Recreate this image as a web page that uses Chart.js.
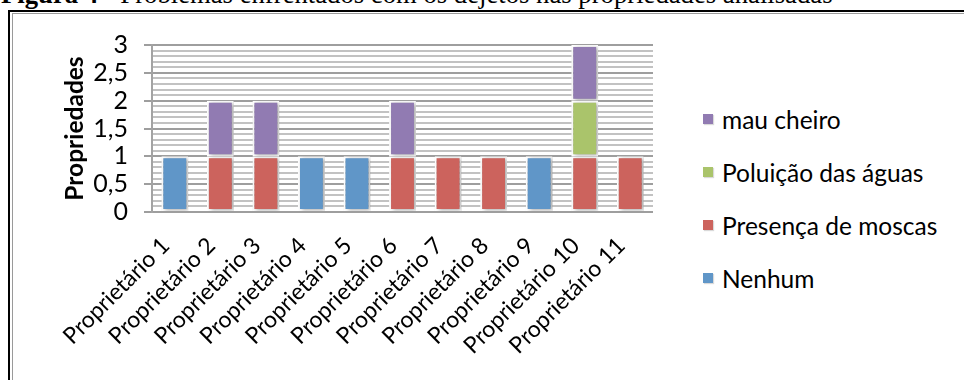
<!DOCTYPE html>
<html lang="pt">
<head>
<meta charset="utf-8">
<script src="https://cdn.jsdelivr.net/npm/chart.js@4/dist/chart.umd.min.js"></script>
<style>
  html, body { margin: 0; padding: 0; background: #fff; }
  #page { position: relative; width: 964px; height: 380px; overflow: hidden; background: #fff; }
  #caption {
    position: absolute; left: 1px; top: -21px; white-space: nowrap;
    font-family: "Liberation Serif", "Times New Roman", serif; font-size: 26.7px; color: #000;
  }
  #caption b { font-weight: bold; }
  .frame-outer-top { position: absolute; left: 8px; top: 10px; right: 0; height: 2px; background: #000; }
  .frame-inner-top { position: absolute; left: 12px; top: 13px; right: 0; height: 1px; background: #9a9a9a; }
  .frame-outer-left { position: absolute; left: 8px; top: 10px; bottom: 0; width: 2px; background: #000; }
  .frame-inner-left { position: absolute; left: 12px; top: 13px; bottom: 0; width: 1px; background: #9a9a9a; }
  #chartBox { position: absolute; left: 0; top: 0; width: 680px; height: 380px; }
  #legend { position: absolute; left: 703px; top: 0; font-family: Lato, "Open Sans", sans-serif; font-size: 24.5px; color: #000; }
  .item { position: absolute; left: 0; white-space: nowrap; display: flex; align-items: center; height: 30px; }
  .swatch { width: 10px; height: 10px; margin-right: 9px; box-shadow: 1px 1px 1px rgba(0,0,0,0.15); }
</style>
</head>
<body>
<div id="page">
  <div id="caption"><b>Figura 4</b> - Problemas enfrentados com os dejetos nas propriedades analisadas</div>
  <div class="frame-outer-top"></div>
  <div class="frame-inner-top"></div>
  <div class="frame-outer-left"></div>
  <div class="frame-inner-left"></div>
  <div id="chartBox"><canvas id="chart" width="680" height="380"></canvas></div>
  <div id="legend"></div>
</div>
<script>
// Categories: the eleven farm owners surveyed
const owners = [
  'Proprietário 1', 'Proprietário 2', 'Proprietário 3', 'Proprietário 4',
  'Proprietário 5', 'Proprietário 6', 'Proprietário 7', 'Proprietário 8',
  'Proprietário 9', 'Proprietário 10', 'Proprietário 11'
];

// Number of properties reporting each problem
const nenhum          = [1, 0, 0, 1, 1, 0, 0, 0, 1, 0, 0];
const presencaMoscas  = [0, 1, 1, 0, 0, 1, 1, 1, 0, 1, 1];
const poluicaoAguas   = [0, 0, 0, 0, 0, 0, 0, 0, 0, 1, 0];
const mauCheiro       = [0, 1, 1, 0, 0, 1, 0, 0, 0, 1, 0];

const seriesNames  = ['Nenhum', 'Presença de moscas', 'Poluição das águas', 'mau cheiro'];
const seriesColors = ['#6096c8', '#cc635d', '#aac46b', '#917bb2'];
const seriesValues = [nenhum, presencaMoscas, poluicaoAguas, mauCheiro];

// Y axis: 0 to 3, labelled every 0.5, minor lines every 0.1
const yMin = 0, yMax = 3, yMinorStep = 0.1, yLabelStep = 0.5;

const isLabelled = v => Math.abs(v / yLabelStep - Math.round(v / yLabelStep)) < 1e-6;

const FONT = 'Lato, "Open Sans", sans-serif';

// soft drop shadow under the bars
const barShadow = {
  id: 'barShadow',
  beforeDatasetsDraw(chart) {
    const ctx = chart.ctx;
    ctx.save();
    ctx.shadowColor = 'rgba(0,0,0,0.35)';
    ctx.shadowBlur = 4;
    ctx.shadowOffsetX = 2;
    ctx.shadowOffsetY = 1;
  },
  afterDatasetsDraw(chart) { chart.ctx.restore(); }
};

new Chart(document.getElementById('chart'), {
  type: 'bar',
  data: {
    labels: owners,
    datasets: seriesValues.map((vals, i) => ({
      label: seriesNames[i],
      data: vals,
      backgroundColor: seriesColors[i],
      borderColor: '#ffffff',
      borderWidth: 2,
      borderSkipped: false,
      categoryPercentage: 1,
      barPercentage: 0.59
    }))
  },
  options: {
    responsive: false,
    animation: false,
    devicePixelRatio: 1,
    layout: { padding: { left: 0, top: 45, right: 27, bottom: 0 } },
    plugins: { legend: { display: false }, tooltip: { enabled: false } },
    scales: {
      x: {
        stacked: true,
        grid: { display: false },
        border: { display: false },
        ticks: {
          color: '#000',
          font: { family: FONT, size: 23 },
          minRotation: 45, maxRotation: 45,
          autoSkip: false,
          padding: 12,
          labelOffset: -9
        },
        afterFit(scale) { scale.height = 168; }
      },
      y: {
        stacked: true,
        min: yMin, max: yMax,
        border: { display: true, color: '#a3a3a3', width: 2 },
        grid: {
          color: c => isLabelled(c.tick.value) ? '#9e9e9e' : '#c2c2c2',
          lineWidth: 2,
          tickLength: 8,
          tickColor: c => isLabelled(c.tick.value) ? '#9e9e9e' : 'rgba(0,0,0,0)',
          tickWidth: 2
        },
        ticks: {
          stepSize: yMinorStep,
          autoSkip: false,
          color: '#000',
          font: { family: FONT, size: 25 },
          padding: 16,
          callback: v => isLabelled(v) ? String(Math.round(v * 10) / 10).replace('.', ',') : ''
        },
        title: {
          display: true,
          text: 'Propriedades',
          color: '#000',
          font: { family: FONT, size: 24.5, weight: 'bold' },
          padding: { top: 60, bottom: 0 }
        },
        afterFit(scale) { scale.width = 152; }
      }
    }
  },
  plugins: [barShadow]
});

// Legend, listed top-down in reverse stacking order
const legend = document.getElementById('legend');
const legendRowTop = [104, 157, 210, 263];
for (let k = 0; k < seriesNames.length; k++) {
  const i = seriesNames.length - 1 - k;
  const row = document.createElement('div');
  row.className = 'item';
  row.style.top = legendRowTop[k] + 'px';
  const sw = document.createElement('span');
  sw.className = 'swatch';
  sw.style.background = seriesColors[i];
  const tx = document.createElement('span');
  tx.textContent = seriesNames[i];
  row.appendChild(sw);
  row.appendChild(tx);
  legend.appendChild(row);
}
</script>
</body>
</html>
